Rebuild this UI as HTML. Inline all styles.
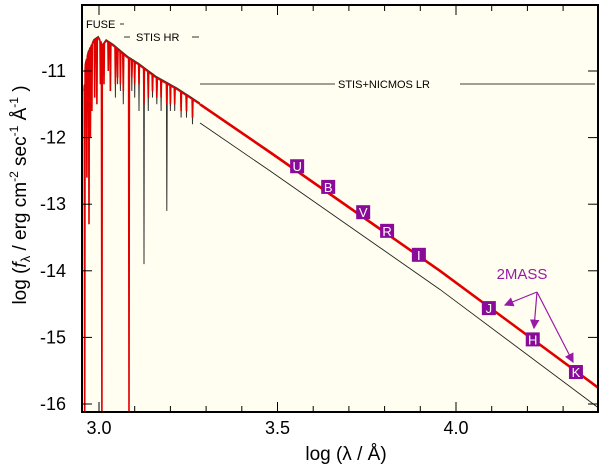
<!DOCTYPE html>
<html><head><meta charset="utf-8"><style>
html,body{margin:0;padding:0;background:#fff;width:600px;height:467px;overflow:hidden}
svg{display:block;font-family:"Liberation Sans",sans-serif}
</style></head><body>
<svg id="c" width="600" height="467" viewBox="0 0 600 467">
<rect x="82" y="5" width="516" height="407" fill="#fffef0"/>
<g id="marks"></g>
<g id="axes"></g>
<rect x="82" y="5" width="516" height="407" fill="none" stroke="#000" stroke-width="2"/>
<text x="346" y="460" font-size="19" text-anchor="middle">log (λ / Å)</text>
<text transform="translate(26,195) rotate(-90)" font-size="19" text-anchor="middle">log (<tspan font-style="italic">f</tspan><tspan font-size="13" dy="4">λ</tspan><tspan dy="-4"> / erg cm</tspan><tspan font-size="12" dy="-8">-2</tspan><tspan dy="8"> sec</tspan><tspan font-size="12" dy="-8">-1</tspan><tspan dy="8"> Å</tspan><tspan font-size="12" dy="-8">-1</tspan><tspan dy="8"> )</tspan></text>
<text x="86" y="28" font-size="11">FUSE</text>
<line x1="120" y1="24" x2="124" y2="24" stroke="#000" stroke-width="0.8"/>
<line x1="124" y1="37" x2="130" y2="37" stroke="#000" stroke-width="0.8"/>
<text x="136" y="41" font-size="11">STIS HR</text>
<line x1="192" y1="37" x2="199" y2="37" stroke="#000" stroke-width="0.8"/>
<line x1="200" y1="84" x2="335" y2="84" stroke="#000" stroke-width="0.8"/>
<text x="338" y="88" font-size="11">STIS+NICMOS LR</text>
<line x1="460" y1="84" x2="595" y2="84" stroke="#000" stroke-width="0.8"/>
<text x="522" y="279" font-size="15" fill="#9a1aa8" text-anchor="middle">2MASS</text>
<defs><marker id="ah" markerWidth="8" markerHeight="8" refX="7" refY="4" orient="auto"><path d="M0,0 L8,4 L0,8 z" fill="#9a1aa8"/></marker></defs>
<g stroke="#9a1aa8" stroke-width="1.2" fill="none">
<line x1="537" y1="292" x2="505" y2="305" marker-end="url(#ah)"/>
<line x1="537" y1="292" x2="534" y2="328" marker-end="url(#ah)"/>
<line x1="537" y1="292" x2="573" y2="362" marker-end="url(#ah)"/>
</g>
</svg>
<script>
const envX=[2.958,2.962,2.970,2.985,2.998,3.010,3.020,3.040,3.080,3.110,3.160,3.220,3.283];
const envY=[-11.3,-10.9,-10.72,-10.55,-10.50,-10.62,-10.55,-10.62,-10.80,-10.90,-11.10,-11.28,-11.50];
const lineX=[2.960,2.966,2.972,2.976,2.980,2.988,2.994,3.004,3.008,3.014,3.026,3.032,3.046,3.052,3.060,3.068,3.084,3.092,3.100,3.112,3.126,3.138,3.150,3.162,3.174,3.190,3.200,3.212,3.230,3.245,3.262];
const lineRed=[-16.2,-12.6,-13.3,-12.0,-11.6,-11.4,-11.5,-11.2,-16.2,-11.2,-11.0,-11.3,-11.2,-11.1,-11.2,-11.3,-16.2,-11.1,-11.2,-11.2,-11.5,-11.4,-11.3,-11.4,-11.4,-11.5,-11.5,-11.5,-11.6,-11.6,-11.7];
const lineBlk=[-14.5,-12.2,-13.2,-11.8,-11.5,-11.3,-11.4,-11.1,-15.2,-11.2,-11.0,-11.3,-11.4,-11.2,-11.3,-11.5,-12.1,-11.3,-11.4,-11.6,-13.9,-11.6,-11.4,-11.5,-11.6,-13.1,-11.6,-11.6,-11.7,-11.7,-11.8];
const contX=[3.283,3.479,3.955,4.392,4.45];
const contRed=[-11.50,-12.22,-14.00,-15.73,-15.97];
const contBlk=[-11.78,-12.50,-14.28,-16.03,-16.26];
const bandNames=["U","B","V","R","I","J","H","K"];
const bandX=[3.555,3.642,3.740,3.807,3.896,4.092,4.215,4.336];
const bandY=[-12.43,-12.74,-13.12,-13.40,-13.76,-14.56,-15.03,-15.52];
const xTicks=[3.0,3.5,4.0];
const xTickLabels=["3.0","3.5","4.0"];
const yTicks=[-11,-12,-13,-14,-15,-16];
const yTickLabels=["-11","-12","-13","-14","-15","-16"];

const X=v=>99+(v-3)*357;
const Y=v=>71-(v+11)*66.6;
const NS="http://www.w3.org/2000/svg";
const marks=document.getElementById('marks');
const axes=document.getElementById('axes');
function mk(tag,attrs,parent){const e=document.createElementNS(NS,tag);for(const k in attrs)e.setAttribute(k,attrs[k]);parent.appendChild(e);return e;}
const clip=mk('clipPath',{id:'pc'},marks);mk('rect',{x:82,y:5,width:516,height:407},clip);
const g=mk('g',{'clip-path':'url(#pc)'},marks);
function envAt(x){for(let i=0;i<envX.length-1;i++){if(x>=envX[i]&&x<=envX[i+1]){const t=(x-envX[i])/(envX[i+1]-envX[i]);return envY[i]+t*(envY[i+1]-envY[i]);}}return envY[envY.length-1];}
function spectrum(depths,off){
  let pts=[];let li=0;
  for(let i=0;i<envX.length;i++){
    while(li<lineX.length&&lineX[li]<envX[i]){const lx=lineX[li];pts.push([lx-0.0012,envAt(lx-0.0012)+off]);pts.push([lx,depths[li]]);pts.push([lx+0.0012,envAt(lx+0.0012)+off]);li++;}
    pts.push([envX[i],envY[i]+off]);
  }
  return 'M'+pts.map(p=>X(p[0]).toFixed(1)+','+Y(p[1]).toFixed(1)).join(' L');
}
const sb=mk('path',{d:spectrum(lineBlk,0.02),fill:'none',stroke:'#333',"stroke-width":1},g);


const sr=mk('path',{d:spectrum(lineRed,0),fill:'none',stroke:'#e00000',"stroke-width":1.6},g);


const cb=mk('path',{d:'M'+contX.map((x,i)=>X(x)+','+Y(contBlk[i])).join(' L'),fill:'none',stroke:'#222',"stroke-width":0.9},g);


const cr=mk('path',{d:'M'+contX.map((x,i)=>X(x)+','+Y(contRed[i])).join(' L'),fill:'none',stroke:'#e00000',"stroke-width":2.6},g);


bandNames.forEach((n,i)=>{
  const b=mk('g',{},marks);
  
  
  mk('rect',{x:X(bandX[i])-7,y:Y(bandY[i])-7,width:14,height:14,fill:'#8a0a9a'},b);
  const t=mk('text',{x:X(bandX[i]),y:Y(bandY[i])+5,'font-size':13,fill:'#fff','text-anchor':'middle'},b);t.textContent=n;
});
for(let k=0;k<=14;k++){
  const v=3.0+k*0.1;const x=X(v);if(x>597)break;
  const major=k%5===0;const L=major?10:6;
  mk('line',{x1:x,y1:412,x2:x,y2:412-L,stroke:'#000','stroke-width':1},axes);
  mk('line',{x1:x,y1:5,x2:x,y2:5+L,stroke:'#000','stroke-width':1},axes);
}
xTicks.forEach((v,i)=>{const t=mk('text',{x:X(v),y:434,'font-size':18,'text-anchor':'middle'},axes);t.textContent=xTickLabels[i];

});
yTicks.forEach((v,i)=>{const y=Y(v);
  mk('line',{x1:82,y1:y,x2:92,y2:y,stroke:'#000'},axes);
  mk('line',{x1:588,y1:y,x2:598,y2:y,stroke:'#000'},axes);
  const t=mk('text',{x:66,y:y+6,'font-size':18,'text-anchor':'end'},axes);t.textContent=yTickLabels[i];
  
  });
</script>
</body></html>
